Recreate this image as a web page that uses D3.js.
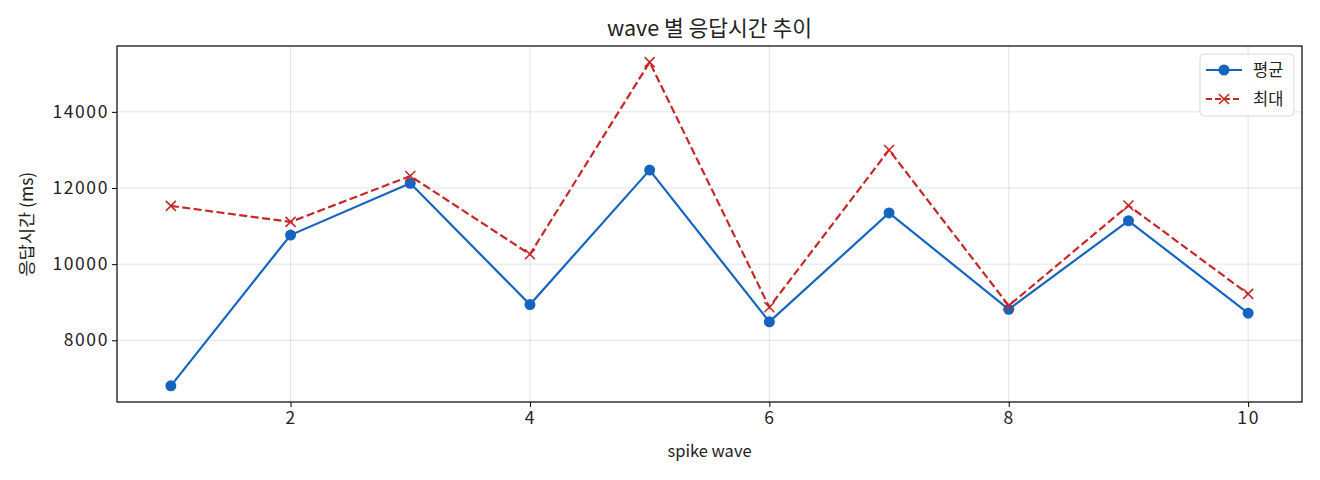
<!DOCTYPE html>
<html>
<head>
<meta charset="utf-8">
<script src="https://cdn.jsdelivr.net/npm/d3@7"></script>
<style>
  body { margin: 0; background: #fff; }
  text { font-family: "Noto Sans CJK KR", "Noto Sans", sans-serif; fill: #222; }
</style>
</head>
<body>
<svg id="chart" width="1320" height="480"></svg>
<script>
var waves = [1, 2, 3, 4, 5, 6, 7, 8, 9, 10];
var avgMs = [6805, 10765, 12125, 8940, 12470, 8485, 11345, 8815, 11140, 8712];
var maxMs = [11530, 11110, 12315, 10260, 15305, 8870, 13000, 8910, 11540, 9220];
var xTicks = [2, 4, 6, 8, 10];
var yTicks = [8000, 10000, 12000, 14000];
var seriesNames = ["평균", "최대"];

var margin = { top: 46, right: 18, bottom: 78, left: 117 },
  width = 1320 - margin.left - margin.right,
  height = 480 - margin.top - margin.bottom;

var svg = d3.select("#chart");
var g = svg.append("g").attr("transform", "translate(" + margin.left + "," + margin.top + ")");

// matplotlib-like 5% padding
var xPad = (d3.max(waves) - d3.min(waves)) * 0.05;
var allY = avgMs.concat(maxMs);
var yPad = (d3.max(allY) - d3.min(allY)) * 0.05;

var x = d3.scaleLinear()
  .domain([d3.min(waves) - xPad, d3.max(waves) + xPad])
  .range([0, width]);
var y = d3.scaleLinear()
  .domain([d3.min(allY) - yPad, d3.max(allY) + yPad])
  .range([height, 0]);

// grid
g.append("g").selectAll("line").data(xTicks).enter().append("line")
  .attr("x1", d => x(d)).attr("x2", d => x(d))
  .attr("y1", 0).attr("y2", height)
  .attr("stroke", "#b0b0b0").attr("stroke-opacity", 0.35).attr("stroke-width", 1);
g.append("g").selectAll("line").data(yTicks).enter().append("line")
  .attr("y1", d => y(d)).attr("y2", d => y(d))
  .attr("x1", 0).attr("x2", width)
  .attr("stroke", "#b0b0b0").attr("stroke-opacity", 0.35).attr("stroke-width", 1);

// axes
var xAxis = d3.axisBottom(x).tickValues(xTicks).tickSize(5).tickPadding(5).tickFormat(d3.format("d"));
var yAxis = d3.axisLeft(y).tickValues(yTicks).tickSize(5).tickPadding(3).tickFormat(d3.format("d"));

var gx = g.append("g").attr("transform", "translate(0," + height + ")").call(xAxis);
var gy = g.append("g").call(yAxis);
[gx, gy].forEach(function (a) {
  a.select(".domain").remove();
  a.selectAll("line").attr("stroke", "#000").attr("stroke-width", 1);
  a.selectAll("text").style("font-size", "17.5px").style("letter-spacing", "1.6px").attr("fill", "#1a1a1a");
});

g.append("rect").attr("width", width).attr("height", height)
  .attr("fill", "none").attr("stroke", "#000").attr("stroke-width", 1.2);

// lines
var line = d3.line().x((d, i) => x(waves[i])).y(d => y(d));

g.append("path").datum(maxMs).attr("d", line)
  .attr("fill", "none").attr("stroke", "#c62828").attr("stroke-width", 2.2)
  .attr("stroke-dasharray", "8,3.5");
g.append("path").datum(avgMs).attr("d", line)
  .attr("fill", "none").attr("stroke", "#1565c0").attr("stroke-width", 2.2);

g.append("g").selectAll("circle").data(avgMs).enter().append("circle")
  .attr("cx", (d, i) => x(waves[i])).attr("cy", d => y(d))
  .attr("r", 5.5).attr("fill", "#1565c0");

g.append("g").selectAll("path").data(maxMs).enter().append("path")
  .attr("d", "M-5,-5L5,5M-5,5L5,-5")
  .attr("transform", (d, i) => "translate(" + x(waves[i]) + "," + y(d) + ")")
  .attr("stroke", "#c62828").attr("stroke-width", 1.6).attr("fill", "none");

// title and labels
svg.append("text").attr("x", margin.left + width / 2).attr("y", 36)
  .attr("text-anchor", "middle").style("font-size", "21.5px").text("wave 별 응답시간 추이");
svg.append("text").attr("x", margin.left + width / 2).attr("y", 457)
  .attr("text-anchor", "middle").style("font-size", "16.5px").text("spike wave");
svg.append("text").attr("transform", "translate(33," + (margin.top + height / 2) + ") rotate(-90)")
  .attr("text-anchor", "middle").style("font-size", "17.5px").text("응답시간 (ms)");

// legend
var lg = svg.append("g").attr("transform", "translate(1200,54)");
lg.append("rect").attr("width", 94).attr("height", 62).attr("rx", 4)
  .attr("fill", "#fff").attr("fill-opacity", 0.8).attr("stroke", "#d9d9d9");
var items = [
  { name: seriesNames[0], color: "#1565c0", dash: null, mark: "circle" },
  { name: seriesNames[1], color: "#c62828", dash: "6,3", mark: "x" }
];
items.forEach(function (it, i) {
  var yy = 16 + i * 29;
  lg.append("line").attr("x1", 6).attr("x2", 42).attr("y1", yy).attr("y2", yy)
    .attr("stroke", it.color).attr("stroke-width", 2.2).attr("stroke-dasharray", it.dash);
  if (it.mark === "circle") {
    lg.append("circle").attr("cx", 24).attr("cy", yy).attr("r", 5.5).attr("fill", it.color);
  } else {
    lg.append("path").attr("d", "M19," + (yy - 5) + "L29," + (yy + 5) + "M19," + (yy + 5) + "L29," + (yy - 5))
      .attr("stroke", it.color).attr("stroke-width", 1.6);
  }
  lg.append("text").attr("x", 53).attr("y", yy + 6).style("font-size", "16.5px").text(it.name);
});
</script>
</body>
</html>
